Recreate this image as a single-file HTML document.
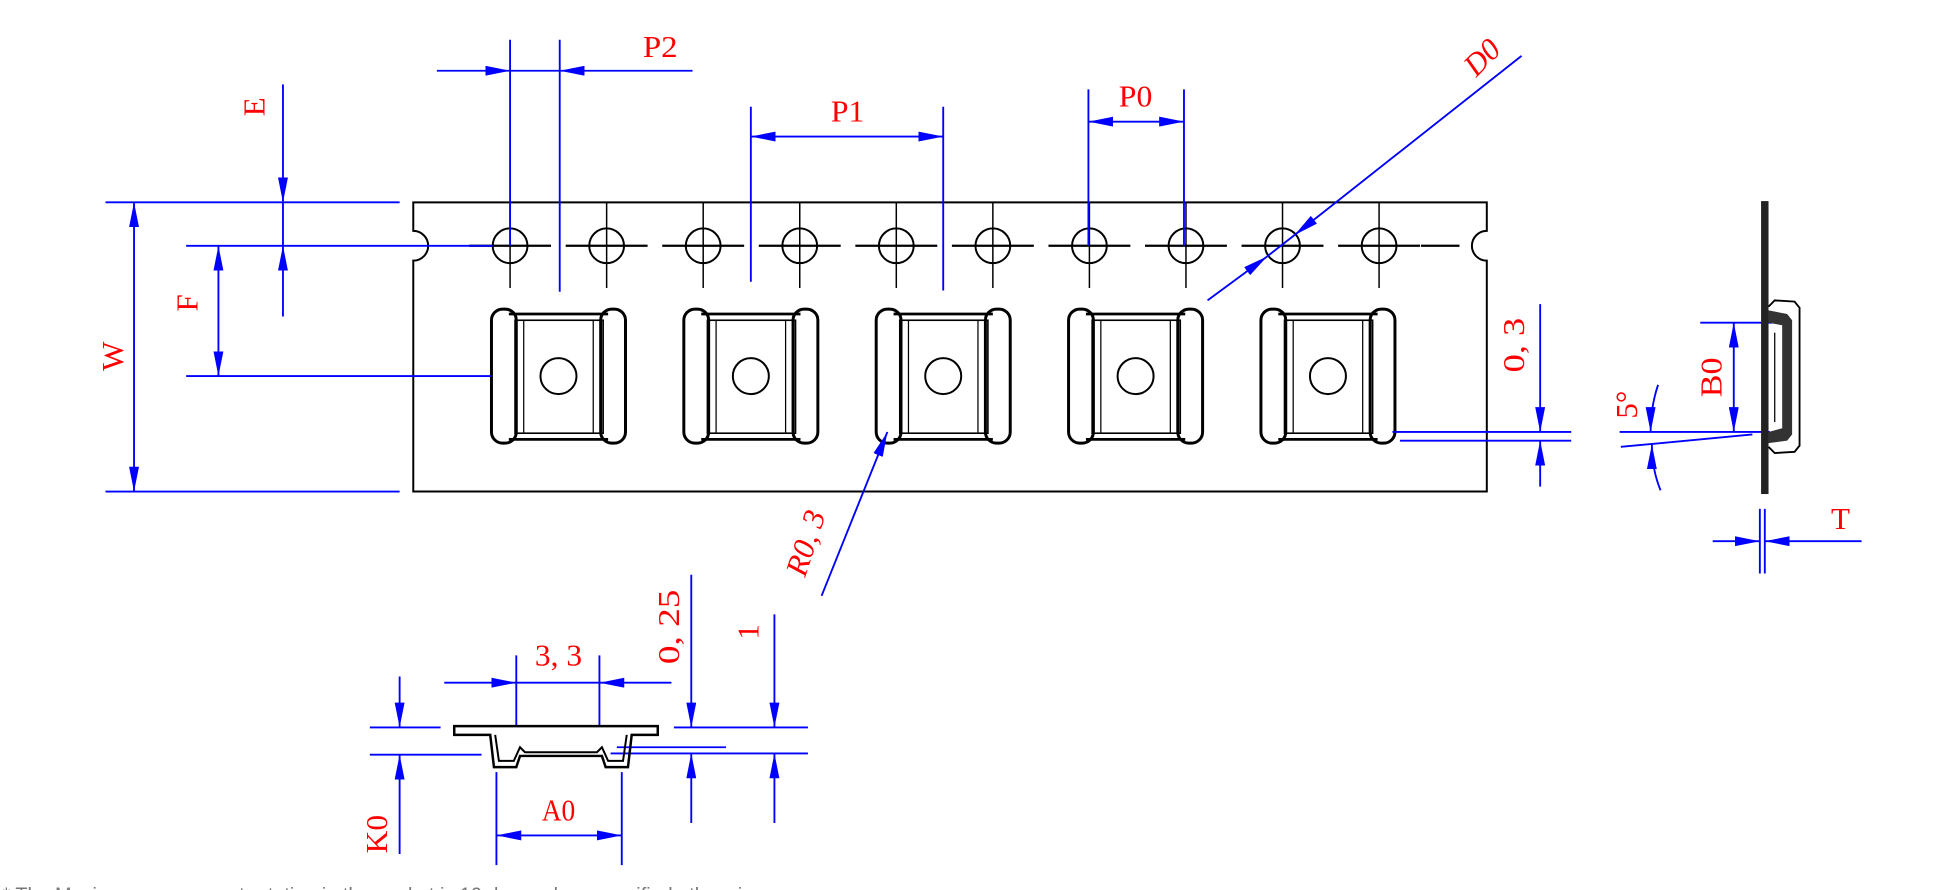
<!DOCTYPE html>
<html><head><meta charset="utf-8"><style>
html,body{margin:0;padding:0;background:#fff;overflow:hidden}
svg{display:block}
text{font-family:"Liberation Serif",serif;fill:#ff0000}
</style></head><body>
<svg width="1946" height="890" viewBox="0 0 1568 717" preserveAspectRatio="none" xmlns="http://www.w3.org/2000/svg">
<defs>
<marker id="a" markerUnits="userSpaceOnUse" markerWidth="20" markerHeight="8" refX="20" refY="4" orient="auto-start-reverse"><path d="M0,0 L20,4 L0,8 z" fill="#0000ff"/></marker>
<g id="pk" fill="none" stroke="#000">
<rect x="396" y="249" width="20" height="108" rx="9" stroke-width="2.4"/>
<rect x="484" y="249" width="20" height="108" rx="9" stroke-width="2.4"/>
<line x1="410" y1="253" x2="490" y2="253" stroke-width="2.2"/>
<line x1="410" y1="354" x2="490" y2="354" stroke-width="2.2"/>
<rect x="415" y="258" width="71" height="91" stroke-width="1.3"/>
<line x1="422" y1="258" x2="422" y2="349" stroke-width="1"/>
<line x1="478" y1="258" x2="478" y2="349" stroke-width="1"/>
<circle cx="450" cy="303" r="14.5" stroke-width="1.6"/>
</g>
<g id="h" fill="none" stroke="#000" stroke-width="1.6">
<circle cx="411" cy="198" r="14"/>
<line x1="411" y1="163" x2="411" y2="232" stroke-width="1.2"/>
<line x1="378" y1="198" x2="444" y2="198" stroke-width="1.8"/>
</g>
</defs>

<path d="M333,163 L1198,163 L1198,186 A12,12 0 0 0 1198,210 L1198,396 L333,396 L333,210 A12,12 0 0 0 333,186 Z" fill="none" stroke="#000" stroke-width="1.6"/>
<use href="#h"/>
<use href="#h" x="77.8"/>
<use href="#h" x="155.6"/>
<use href="#h" x="233.4"/>
<use href="#h" x="311.2"/>
<use href="#h" x="389"/>
<use href="#h" x="466.8"/>
<use href="#h" x="544.6"/>
<use href="#h" x="622.4"/>
<use href="#h" x="700.2"/>
<line x1="1145" y1="198" x2="1176" y2="198" stroke="#000" stroke-width="1.8"/>
<use href="#pk"/>
<use href="#pk" x="155"/>
<use href="#pk" x="310"/>
<use href="#pk" x="465"/>
<use href="#pk" x="620"/>

<g stroke="#0000ff" stroke-width="1.5" fill="none">
<line x1="85" y1="163" x2="322" y2="163"/>
<line x1="85" y1="396" x2="322" y2="396"/>
<line x1="108" y1="163" x2="108" y2="396" marker-start="url(#a)" marker-end="url(#a)"/>
<line x1="228" y1="68" x2="228" y2="163" marker-end="url(#a)"/>
<line x1="228" y1="163" x2="228" y2="198"/>
<line x1="228" y1="255" x2="228" y2="198" marker-end="url(#a)"/>
<line x1="150" y1="198" x2="397" y2="198"/>
<line x1="176" y1="198" x2="176" y2="303" marker-start="url(#a)" marker-end="url(#a)"/>
<line x1="150" y1="303" x2="396" y2="303"/>
<line x1="411" y1="32" x2="411" y2="198"/>
<line x1="451" y1="32" x2="451" y2="235"/>
<line x1="352" y1="57" x2="411" y2="57" marker-end="url(#a)"/>
<line x1="411" y1="57" x2="451" y2="57"/>
<line x1="558" y1="57" x2="451" y2="57" marker-end="url(#a)"/>
<line x1="605" y1="86" x2="605" y2="227"/>
<line x1="760" y1="86" x2="760" y2="234"/>
<line x1="605" y1="110" x2="760" y2="110" marker-start="url(#a)" marker-end="url(#a)"/>
<line x1="877" y1="72" x2="877" y2="198"/>
<line x1="954" y1="72" x2="954" y2="198"/>
<line x1="877" y1="98" x2="954" y2="98" marker-start="url(#a)" marker-end="url(#a)"/>
<line x1="1226" y1="45" x2="1043" y2="189.4" marker-end="url(#a)"/>
<line x1="1043" y1="189.4" x2="1021" y2="206.6"/>
<line x1="973" y1="242" x2="1021" y2="206.6" marker-end="url(#a)"/>
<line x1="1122" y1="348" x2="1266" y2="348"/>
<line x1="1128" y1="355" x2="1266" y2="355"/>
<line x1="1241" y1="245" x2="1241" y2="348" marker-end="url(#a)"/>
<line x1="1241" y1="392" x2="1241" y2="355" marker-end="url(#a)"/>
<line x1="662" y1="480" x2="715" y2="348" marker-end="url(#a)"/>
<line x1="1305" y1="348" x2="1426" y2="348"/>
<line x1="1306" y1="360" x2="1412" y2="350"/>
<path d="M1336,310 Q1330,328 1330,348" marker-end="url(#a)"/>
<path d="M1338,395 Q1331,378 1331,358" marker-end="url(#a)"/>
<line x1="1370" y1="260" x2="1428" y2="260"/>
<line x1="1397" y1="260" x2="1397" y2="348" marker-start="url(#a)" marker-end="url(#a)"/>
<line x1="1418" y1="410" x2="1418" y2="462"/>
<line x1="1422" y1="410" x2="1422" y2="462"/>
<line x1="1380" y1="436" x2="1418" y2="436" marker-end="url(#a)"/>
<line x1="1500" y1="436" x2="1422" y2="436" marker-end="url(#a)"/>
<line x1="416" y1="528" x2="416" y2="585"/>
<line x1="483" y1="528" x2="483" y2="585"/>
<line x1="358" y1="550" x2="416" y2="550" marker-end="url(#a)"/>
<line x1="416" y1="550" x2="483" y2="550"/>
<line x1="541" y1="550" x2="483" y2="550" marker-end="url(#a)"/>
<line x1="298" y1="586" x2="355" y2="586"/>
<line x1="298" y1="608" x2="388" y2="608"/>
<line x1="322" y1="545" x2="322" y2="586" marker-end="url(#a)"/>
<line x1="322" y1="688" x2="322" y2="608" marker-end="url(#a)"/>
<line x1="400" y1="622" x2="400" y2="697"/>
<line x1="501" y1="622" x2="501" y2="697"/>
<line x1="400" y1="673" x2="501" y2="673" marker-start="url(#a)" marker-end="url(#a)"/>
<line x1="543" y1="586" x2="651" y2="586"/>
<line x1="497" y1="602" x2="585" y2="602"/>
<line x1="492" y1="607" x2="651" y2="607"/>
<line x1="557" y1="463" x2="557" y2="586" marker-end="url(#a)"/>
<line x1="557" y1="663" x2="557" y2="607" marker-end="url(#a)"/>
<line x1="624" y1="495" x2="624" y2="586" marker-end="url(#a)"/>
<line x1="624" y1="663" x2="624" y2="607" marker-end="url(#a)"/>
</g>

<rect x="1419" y="162" width="6" height="236" fill="#222"/>
<path d="M1425,247 L1430,242 L1446,243 L1450,248 L1450,359 L1446,364 L1430,365 L1425,360" fill="none" stroke="#000" stroke-width="1.5"/>
<path d="M1425,250 L1440,253 L1444,258 L1444,350 L1440,355 L1425,357 L1425,348 L1436,345 L1436,262 L1425,260 Z" fill="#333"/>
<line x1="1430" y1="268" x2="1430" y2="340" stroke="#000" stroke-width="1"/>

<path d="M366,585 L530,585 L530,592 L509,592 L506,618 L488,618 L485,609 L419,609 L416,618 L398,618 L395,592 L366,592 Z" fill="none" stroke="#000" stroke-width="2"/>
<path d="M399,592 L402,613 L414,613 L419,602 L423,606 L481,606 L485,602 L490,613 L502,613 L505,592" fill="none" stroke="#000" stroke-width="1.6"/>

<g font-size="25">
<text x="532" y="46" text-anchor="middle" textLength="28" lengthAdjust="spacingAndGlyphs">P2</text>
<text x="683" y="98" text-anchor="middle" textLength="27" lengthAdjust="spacingAndGlyphs">P1</text>
<text x="915" y="86" text-anchor="middle" textLength="27" lengthAdjust="spacingAndGlyphs">P0</text>
<text transform="translate(1200,52) rotate(-45)" font-style="italic" text-anchor="middle" textLength="30" lengthAdjust="spacingAndGlyphs">D0</text>
<text transform="translate(213,86) rotate(-90)" text-anchor="middle">E</text>
<text transform="translate(159,244) rotate(-90)" text-anchor="middle">F</text>
<text transform="translate(99,287) rotate(-90)" text-anchor="middle">W</text>
<text transform="translate(1228,278) rotate(-90)" text-anchor="middle" textLength="44" lengthAdjust="spacingAndGlyphs">0, 3</text>
<text transform="translate(1387,304) rotate(-90)" text-anchor="middle" textLength="32" lengthAdjust="spacingAndGlyphs">B0</text>
<text transform="translate(1319,326) rotate(-90)" text-anchor="middle">5°</text>
<text x="1483" y="426" text-anchor="middle">T</text>
<text transform="translate(657,440) rotate(-72)" font-style="italic" text-anchor="middle" textLength="54" lengthAdjust="spacingAndGlyphs">R0, 3</text>
<text x="450" y="536" text-anchor="middle" textLength="38" lengthAdjust="spacingAndGlyphs">3, 3</text>
<text transform="translate(547,505) rotate(-90)" text-anchor="middle" textLength="60" lengthAdjust="spacingAndGlyphs">0, 25</text>
<text transform="translate(611,509) rotate(-90)" text-anchor="middle">1</text>
<text x="450" y="661" text-anchor="middle" textLength="27" lengthAdjust="spacingAndGlyphs">A0</text>
<text transform="translate(312,672) rotate(-90)" text-anchor="middle" textLength="31" lengthAdjust="spacingAndGlyphs">K0</text>
</g>
<text x="2" y="726" font-size="16" style="fill:#777;font-family:'Liberation Sans',sans-serif">* The Maximum component rotation in the pocket is 10 deg, unless specified otherwise</text>
</svg>
</body></html>
